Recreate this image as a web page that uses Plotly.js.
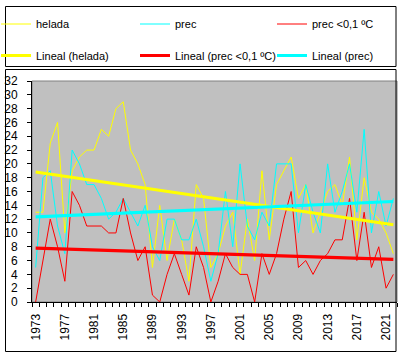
<!DOCTYPE html>
<html><head><meta charset="utf-8">
<script src="https://cdn.plot.ly/plotly-3.0.1.min.js"></script>
<style>html,body{margin:0;padding:0;background:#fff}#chart{width:402px;height:357px}</style>
</head><body><div id="chart"></div>
<script>
const years = [1973,1974,1975,1976,1977,1978,1979,1980,1981,1982,1983,1984,1985,1986,1987,1988,1989,1990,1991,1992,1993,1994,1995,1996,1997,1998,1999,2000,2001,2002,2003,2004,2005,2006,2007,2008,2009,2010,2011,2012,2013,2014,2015,2016,2017,2018,2019,2020,2021,2022];
const helada = [13,13,23,26,10,19,21,22,22,25,24,28,29,22,20,17,5,14,6,12,9,3,17,15,5,7,11,13,4,12,6,19,9,17,19,21,15,17,10,13,16,17,14,21,9,18,13,12,10,7];
const prec = [5,18,19,11,7,22,20,17,17,15,12,13,15,13,11,14,8,6,12,12,9,9,12,8,3,7,16,8,20,11,9,13,11,20,20,20,10,17,13,10,20,13,16,20,13,25,10,16,11,15];
const precBajo = [0,6,12,8,3,16,14,11,11,11,10,10,15,10,6,8,1,0,4,7,4,1,8,5,0,3,7,5,4,4,0,7,4,7,12,16,5,6,4,6,7,9,9,15,6,13,5,8,2,4];
const tickYears = [1973,1977,1981,1985,1989,1993,1997,2001,2005,2009,2013,2017,2021];
const names = ['helada','prec','prec <0,1 ºC','Lineal (helada)','Lineal (prec <0,1 ºC)','Lineal (prec)'];

function trend(xs, ys){
  const n = xs.length;
  const mx = xs.reduce((a,b)=>a+b,0)/n, my = ys.reduce((a,b)=>a+b,0)/n;
  let sxy=0, sxx=0;
  for(let i=0;i<n;i++){ sxy += (xs[i]-mx)*(ys[i]-my); sxx += (xs[i]-mx)*(xs[i]-mx); }
  const b = sxy/sxx, a = my - b*mx;
  return xs.map(x => a + b*x);
}

const L=32, T=81, W=365, H=221;
const px2x = p => (p - L)/W;
const px2y = p => (T + H - p)/H;

const thin = 1, thick = 3.2;
const traces = [
  {x: years, y: helada, name: names[0], mode:'lines', line:{color:'#FFFF00', width:thin}, legend:'legend', legendgroup:'a'},
  {x: years, y: prec, name: names[1], mode:'lines', line:{color:'#00FFFF', width:thin}, legend:'legend2', legendgroup:'c'},
  {x: years, y: precBajo, name: names[2], mode:'lines', line:{color:'#FF0000', width:thin}, legend:'legend3', legendgroup:'e'},
  {x: years, y: trend(years, helada), name: names[3], mode:'lines', line:{color:'#FFFF00', width:thick}, legend:'legend', legendgroup:'b'},
  {x: years, y: trend(years, precBajo), name: names[4], mode:'lines', line:{color:'#FF0000', width:thick}, legend:'legend2', legendgroup:'d'},
  {x: years, y: trend(years, prec), name: names[5], mode:'lines', line:{color:'#00FFFF', width:thick}, legend:'legend3', legendgroup:'f'}
];

const legFont = {family:'Liberation Sans, Arial, sans-serif', size:11, color:'#000'};
function leg(pxLeft){
  return {x: px2x(pxLeft), xanchor:'left', y: px2y(9.5), yanchor:'top', orientation:'v',
          traceorder:'grouped', tracegroupgap:12.5, bgcolor:'rgba(0,0,0,0)', borderwidth:0,
          font: legFont, itemwidth:30, itemclick:false, itemdoubleclick:false};
}

const layout = {
  width:402, height:357,
  margin:{l:L, r:402-L-W, t:T, b:357-T-H, pad:0, autoexpand:false},
  paper_bgcolor:'#FFFFFF', plot_bgcolor:'#C0C0C0',
  font:{family:'Liberation Sans, Arial, sans-serif', size:12, color:'#000'},
  showlegend:true,
  legend: leg(-4), legend2: leg(135), legend3: leg(272),
  xaxis:{type:'linear', range:[1972.5, 2022.5], tickmode:'array', tickvals:tickYears,
         ticktext: tickYears.map(String), tickangle:-90, ticks:'', showline:true, linecolor:'#000', linewidth:1,
         showgrid:false, zeroline:false, ticklabelstandoff:6, automargin:false,
         minor:{tickmode:'linear', tick0:1972.5, dtick:1, ticks:'outside', ticklen:4, tickcolor:'#000', tickwidth:1, showgrid:false},
         fixedrange:true},
  yaxis:{range:[0,32], tickmode:'linear', tick0:0, dtick:2, ticks:'outside', ticklen:4, tickcolor:'#000',
         showline:true, linecolor:'#000', linewidth:1, showgrid:false, zeroline:false, ticklabelstandoff:7,
         automargin:false, fixedrange:true},
  shapes:[
    {type:'rect', xref:'paper', yref:'paper', x0:0, x1:1, y0:0, y1:1, line:{color:'#808080', width:1}, layer:'below'},
    {type:'rect', xref:'paper', yref:'paper', x0:px2x(5.5), x1:px2x(396), y0:px2y(6.5), y1:px2y(66.5), line:{color:'#000', width:1}},
    {type:'rect', xref:'paper', yref:'paper', x0:px2x(5.5), x1:px2x(396), y0:px2y(69.5), y1:px2y(351.5), line:{color:'#000', width:1}}
  ]
};

Plotly.newPlot('chart', traces, layout, {displayModeBar:false, staticPlot:true});
</script></body></html>
